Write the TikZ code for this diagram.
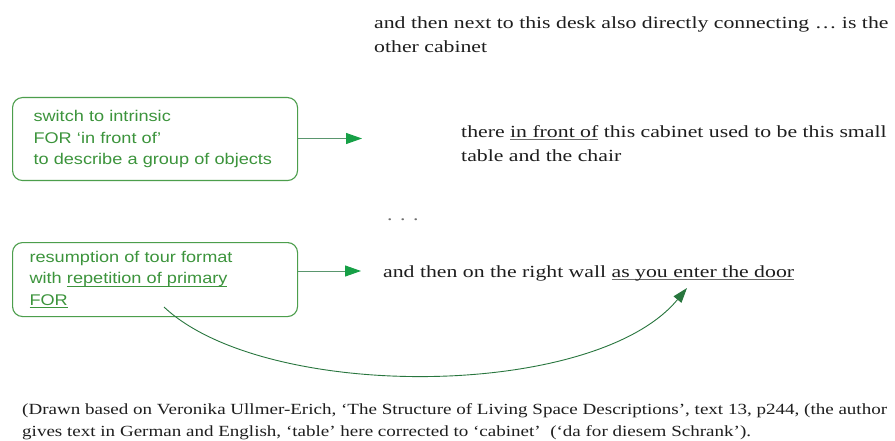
\documentclass[tikz,border=0pt]{standalone}
\usepackage{fontspec}
\usetikzlibrary{arrows.meta}
\newfontfamily\bodyfont[FakeStretch=1.28]{Liberation Serif}
\newfontfamily\notefont[FakeStretch=1.17]{Liberation Sans}
\newfontfamily\capfont[FakeStretch=1.228]{Liberation Serif}
\definecolor{notegreen}{RGB}{60,148,60}
\definecolor{framegreen}{RGB}{76,158,76}
\definecolor{headgreen}{RGB}{22,160,70}
\definecolor{shaftgreen}{RGB}{90,150,110}
\definecolor{curvegreen}{RGB}{40,118,62}
\definecolor{bodygray}{RGB}{30,30,30}
\definecolor{rulegray}{RGB}{105,105,105}
\definecolor{dotgray}{RGB}{110,110,110}
\newsavebox\ulbox
% underline at a fixed depth below the baseline
\newcommand\ulbody[1]{\leavevmode\sbox\ulbox{#1}\rlap{\textcolor{rulegray}{\rule[-3pt]{\wd\ulbox}{0.8pt}}}\usebox\ulbox}
\newcommand\ulnote[1]{\leavevmode\sbox\ulbox{#1}\rlap{\textcolor{notegreen}{\rule[-2.6pt]{\wd\ulbox}{0.7pt}}}\usebox\ulbox}
\begin{document}
\begin{tikzpicture}[x=1pt,y=-1pt,
  bodytext/.style={inner sep=0pt, align=left, text=bodygray,
    font=\bodyfont\fontsize{17}{24}\selectfont},
  notebox/.style={draw=framegreen, line width=1.1pt, rounded corners=10pt,
    anchor=north west, inner ysep=0pt, align=left, text=notegreen,
    font=\notefont\fontsize{15.5}{21.5}\selectfont},
  feed/.style={draw=shaftgreen, line width=1pt,
    -{Triangle[length=16pt,width=11pt,color=headgreen]}},
  loopback/.style={draw=curvegreen, line width=0.9pt,
    -{Triangle[length=15pt,width=10pt,color=curvegreen]}},
  captext/.style={inner sep=0pt, align=left, text=bodygray,
    font=\capfont\fontsize{15.5}{22.5}\selectfont}]
\useasboundingbox (0,0) rectangle (895,441);
\fill[white] (0,0) rectangle (895,441);

% transcript lines
\node[bodytext, anchor=north west] (said1) at (374,11.2)
  {\strut and then next to this desk also directly connecting … is the\\
   other cabinet};
\node[bodytext, anchor=north west] (said2) at (461,120.2)
  {\strut there \ulbody{in front of} this cabinet used to be this small\\
   table and the chair};
\node[bodytext, anchor=base west, text=dotgray] (gap) at (387,221)
  {.\hspace{7.5pt}.\hspace{7.5pt}.};
\node[bodytext, anchor=base west] (said3) at (383,277)
  {and then on the right wall \ulbody{as you enter the door}};

% annotation boxes
\node[notebox, minimum width=285pt, minimum height=83pt, inner xsep=21pt,
  text width=243pt] (note1) at (12,97)
  {\strut switch to intrinsic\\
   FOR ‘in front of’\\
   to describe a group of objects\strut};
\node[notebox, minimum width=285pt, minimum height=74pt, inner xsep=17pt,
  text width=251pt] (note2) at (12,242)
  {\strut resumption of tour format\\
   with \ulnote{repetition of primary}\\
   \ulnote{FOR}\strut};

% connectors
\coordinate (tip1) at (362,138.5);
\coordinate (tip2) at (361,271);
\draw[feed] (note1.east |- tip1) -- (tip1);
\draw[feed] (note2.east |- tip2) -- (tip2);

\coordinate (loopstart) at (164,307);
\coordinate (looptip) at (687,288);
\draw[loopback] (loopstart) .. controls (265,402) and (595,400) .. (looptip);

% source note
\node[captext, anchor=north west] (source) at (22,398.3)
  {\strut (Drawn based on Veronika Ullmer-Erich, ‘The Structure of Living Space Descriptions’, text 13, p244, (the author\\
   gives text in German and English, ‘table’ here corrected to ‘cabinet’ \ (‘da for diesem Schrank’).};
\end{tikzpicture}
\end{document}
